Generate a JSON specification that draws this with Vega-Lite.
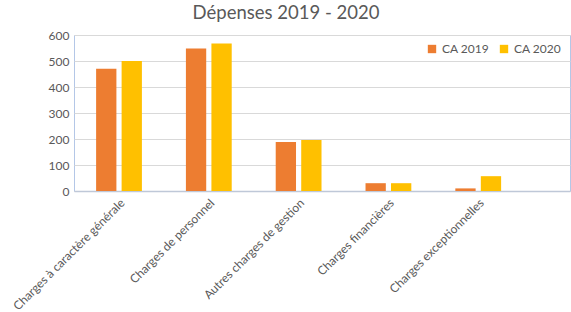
{
  "$schema": "https://vega.github.io/schema/vega-lite/v6.json",
  "autosize": {"type": "none"},
  "width": 496,
  "height": 156,
  "padding": {"left": 74, "top": 35, "right": 1, "bottom": 121},
  "background": "white",
  "title": {
    "text": "Dépenses 2019 - 2020",
    "anchor": "middle",
    "dx": -36,
    "offset": 7,
    "font": "Lato",
    "fontSize": 18.5,
    "fontWeight": "normal",
    "color": "#595959"
  },
  "config": {
    "font": "Lato",
    "view": {"stroke": "#B4C7E7", "strokeWidth": 1}
  },
  "data": {
    "values": [
      {"categorie": "Charges à caractère générale", "serie": "CA 2019", "valeur": 470},
      {"categorie": "Charges à caractère générale", "serie": "CA 2020", "valeur": 500},
      {"categorie": "Charges de personnel", "serie": "CA 2019", "valeur": 548},
      {"categorie": "Charges de personnel", "serie": "CA 2020", "valeur": 567},
      {"categorie": "Autres charges de gestion", "serie": "CA 2019", "valeur": 188},
      {"categorie": "Autres charges de gestion", "serie": "CA 2020", "valeur": 196},
      {"categorie": "Charges financières", "serie": "CA 2019", "valeur": 30},
      {"categorie": "Charges financières", "serie": "CA 2020", "valeur": 30},
      {"categorie": "Charges exceptionnelles", "serie": "CA 2019", "valeur": 10},
      {"categorie": "Charges exceptionnelles", "serie": "CA 2020", "valeur": 57}
    ]
  },
  "mark": {"type": "bar"},
  "encoding": {
    "x": {
      "field": "categorie",
      "type": "nominal",
      "sort": null,
      "title": null,
      "scale": {"paddingInner": 0.49, "paddingOuter": 0.5066, "align": 0.243},
      "axis": {
        "labelAngle": -45,
        "labelFontSize": 12,
        "labelColor": "#595959",
        "domainColor": "#BFC8D8",
        "domainWidth": 1.5,
        "ticks": false,
        "labelPadding": 6,
        "labelLimit": 300
      }
    },
    "xOffset": {
      "field": "serie",
      "type": "nominal",
      "scale": {"paddingInner": 0.204, "paddingOuter": 0}
    },
    "y": {
      "field": "valeur",
      "type": "quantitative",
      "title": null,
      "scale": {"domain": [0, 600], "nice": false},
      "axis": {
        "values": [0, 100, 200, 300, 400, 500, 600],
        "labelFontSize": 12,
        "labelColor": "#595959",
        "gridColor": "#D9D9D9",
        "domain": false,
        "ticks": false,
        "labelPadding": 5
      }
    },
    "color": {
      "field": "serie",
      "type": "nominal",
      "scale": {"domain": ["CA 2019", "CA 2020"], "range": ["#ED7D31", "#FFC000"]},
      "legend": {
        "title": null,
        "orient": "top-right",
        "direction": "horizontal",
        "symbolType": "square",
        "symbolSize": 70,
        "symbolStrokeWidth": 0,
        "labelFontSize": 12,
        "labelColor": "#595959",
        "columnPadding": 8,
        "offset": 8
      }
    }
  }
}
